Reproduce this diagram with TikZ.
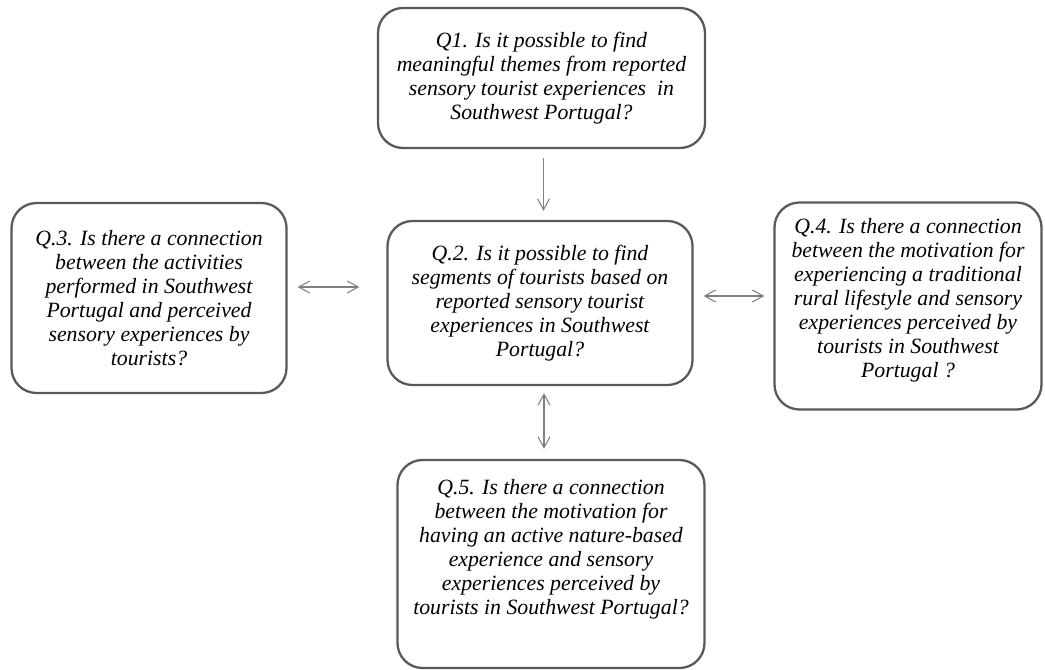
\documentclass[tikz,border=0pt]{standalone}
\usepackage{fontspec}
\setmainfont{Liberation Serif}
\usepackage{tikz}
\usetikzlibrary{positioning, arrows, arrows.meta}
\definecolor{boxgray}{HTML}{595959}
\definecolor{arrgray}{HTML}{808080}

\tikzset{
  qbox/.style={draw=boxgray, line width=1.3pt, rounded corners=0.5cm, align=center,
    font=\itshape\fontsize{12.4}{13.7}\selectfont, inner sep=0pt},
  link/.style={draw=arrgray, line width=0.6pt, {Straight Barb[length=2.2mm,width=2.4mm]}-{Straight Barb[length=2.2mm,width=2.4mm]}},
  down/.style={draw=arrgray, line width=0.6pt, -{Straight Barb[length=2.2mm,width=2.4mm]}}
}

\begin{document}
\begin{tikzpicture}
\useasboundingbox (0,0) rectangle (20.9,-13.4);
% nodes
\node[qbox, minimum width=6.54cm, minimum height=2.8cm] (Q1) at (10.83,-1.56)
  {Q1. Is it possible to find\\ meaningful themes from reported\\ sensory tourist experiences\ \ in\\ Southwest Portugal?};
\node[qbox, minimum width=6.1cm, minimum height=3.28cm] (Q2) at (10.8,-6.06)
  {Q.2. Is it possible to find\\ segments of tourists based on\\ reported sensory tourist\\ experiences in Southwest\\ Portugal?};
\node[qbox, minimum width=5.5cm, minimum height=3.8cm] (Q3) at (2.98,-5.96)
  {Q.3. Is there a connection\\ between the activities\\ performed in Southwest\\ Portugal and perceived\\ sensory experiences\ by\\ tourists?};
\node[qbox, minimum width=5.34cm, minimum height=4.14cm] (Q4) at (18.16,-6.12)
  {Q.4. Is there a connection\\ between the motivation for\\ experiencing a traditional\\ rural lifestyle\ and\ sensory\\ experiences perceived\ by\\ tourists in Southwest\\ Portugal ?\\[-0.16cm]};
\node[qbox, minimum width=6.14cm, minimum height=4.16cm] (Q5) at (11.02,-11.28)
  {Q.5. Is there a connection\\ between the motivation for\\ having an active nature-based\\ experience and sensory\\ experiences perceived\ by\\ tourists in Southwest Portugal?\\[0.2cm]};

% arrows
\draw[down, shorten <=0.18cm, shorten >=0.18cm] ([xshift=0.04cm]Q1.south) -- ([xshift=0.04cm]Q1.south |- Q2.north);
\draw[link, shorten <=0.2cm, shorten >=0.54cm] ([yshift=0.22cm]Q3.east) -- ([yshift=0.22cm]Q3.east -| Q2.west);
\draw[link, shorten <=0.2cm, shorten >=0.18cm] ([yshift=0.14cm]Q2.east) -- ([yshift=0.14cm]Q2.east -| Q4.west);
\draw[link, shorten <=0.14cm, shorten >=0.2cm] ([xshift=0.08cm]Q2.south) -- ([xshift=0.08cm]Q2.south |- Q5.north);
\end{tikzpicture}
\end{document}
